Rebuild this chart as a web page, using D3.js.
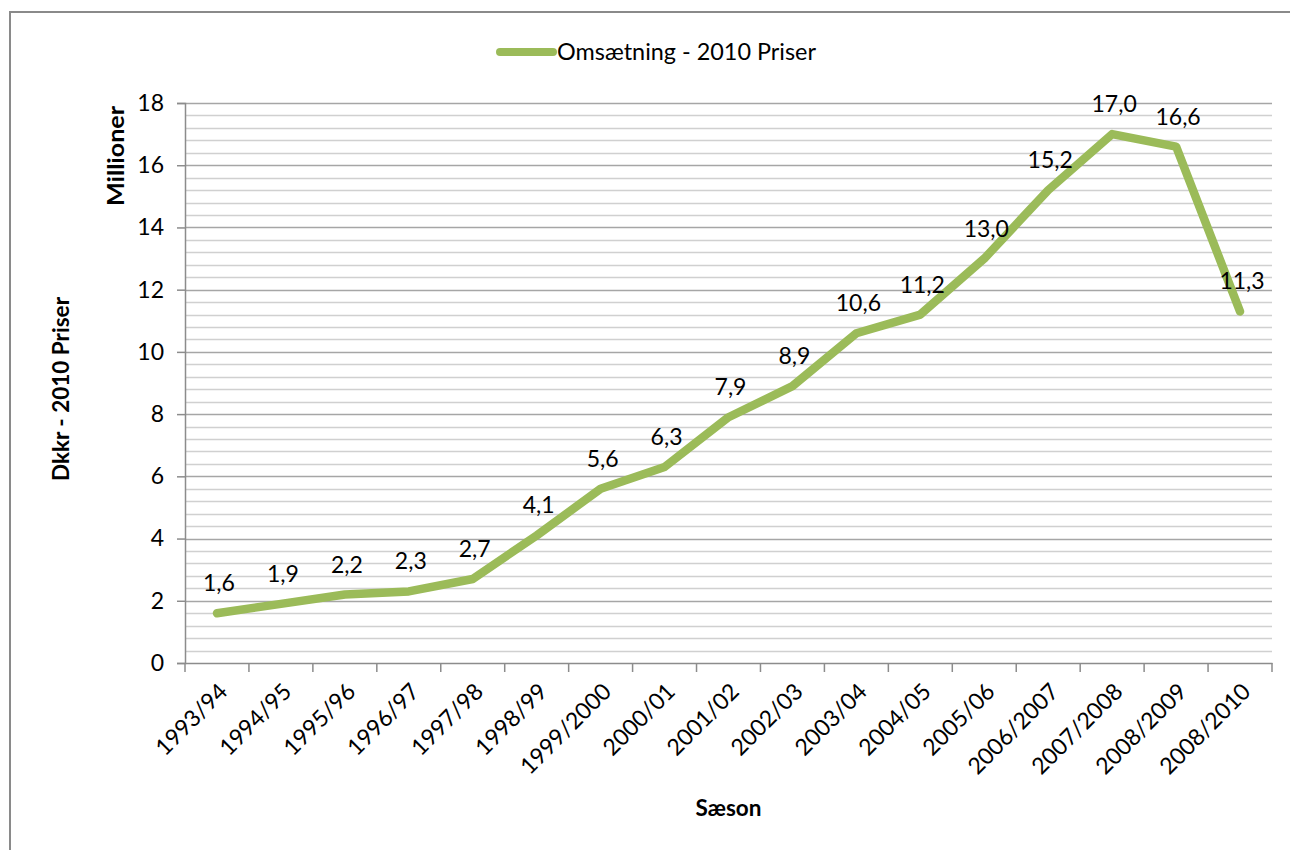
<!DOCTYPE html>
<html><head><meta charset="utf-8">
<script src="https://cdn.jsdelivr.net/npm/d3@7"></script>
<style>
html,body{margin:0;padding:0;background:#fff;}
svg{display:block;}
text{font-family:Lato, "Open Sans", sans-serif;fill:#000;}
</style></head>
<body>
<svg id="chart" width="1290" height="850"></svg>
<script>
const categories = ["1993/94","1994/95","1995/96","1996/97","1997/98","1998/99","1999/2000","2000/01","2001/02","2002/03","2003/04","2004/05","2005/06","2006/2007","2007/2008","2008/2009","2008/2010"];
const values = [1.6,1.9,2.2,2.3,2.7,4.1,5.6,6.3,7.9,8.9,10.6,11.2,13.0,15.2,17.0,16.6,11.3];
const yTicks = [0,2,4,6,8,10,12,14,16,18];
const seriesName = "Omsætning - 2010 Priser";

(function(){
const svg = d3.select("#chart");
const pL = 185, pR = 1272, pT = 103, pB = 663;
const green = "#9BBB59";
const fs = 23, fsB = 22.5, txt = "#1e1e1e";

// outer border
svg.append("rect").attr("x",10).attr("y",12).attr("width",1300).attr("height",900)
  .attr("fill","none").attr("stroke","#8a8a8a").attr("stroke-width",2);

const x = d3.scaleBand().domain(categories).range([pL,pR]).paddingInner(0).paddingOuter(0);
const y = d3.scaleLinear().domain([0,18]).range([pB,pT]);

// minor gridlines
const minor = d3.range(0,18.001,0.4).filter(v => Math.abs(v/2 - Math.round(v/2))>1e-6);
svg.append("g").selectAll("line").data(minor).join("line")
  .attr("x1",pL).attr("x2",pR).attr("y1",d=>Math.round(y(d))+0.5).attr("y2",d=>Math.round(y(d))+0.5)
  .attr("stroke","#d0d0d0").attr("stroke-width",1.5);
// major gridlines
svg.append("g").selectAll("line").data(yTicks.filter(d=>d>0)).join("line")
  .attr("x1",pL).attr("x2",pR).attr("y1",d=>Math.round(y(d))+0.5).attr("y2",d=>Math.round(y(d))+0.5)
  .attr("stroke","#a6a6a6").attr("stroke-width",1.5);

// y axis
const yAxis = d3.axisLeft(y).tickValues(yTicks).tickSize(8).tickPadding(13).tickFormat(d3.format("d"));
const gy = svg.append("g").attr("transform",`translate(${pL},0)`).call(yAxis);
gy.select(".domain").attr("stroke","#8c8c8c").attr("stroke-width",1.5);
gy.selectAll(".tick line").attr("stroke","#8c8c8c").attr("stroke-width",1.5);
gy.selectAll(".tick text").attr("font-size",fs).attr("fill",txt).style("font-family","Lato, sans-serif");

// x axis
const xAxis = d3.axisBottom(x).tickSize(0).tickFormat(d=>d);
const gx = svg.append("g").attr("transform",`translate(0,${pB})`).call(xAxis);
gx.select(".domain").attr("stroke","#8c8c8c").attr("stroke-width",1.5);
gx.selectAll(".tick text").attr("font-size",fs).attr("fill",txt)
  .attr("text-anchor","end").attr("dy",null).attr("y",0)
  .attr("transform","translate(12,30) rotate(-45)");
// category boundary ticks
const bounds = categories.map(c=>x(c)).concat([pR]);
svg.append("g").selectAll("line").data(bounds).join("line")
  .attr("x1",d=>d).attr("x2",d=>d).attr("y1",pB).attr("y2",pB+9)
  .attr("stroke","#8c8c8c").attr("stroke-width",1.5);

// line
const cx = d => x(d) + x.bandwidth()/2;
const line = d3.line().x((d,i)=>cx(categories[i])).y(d=>y(d));
svg.append("path").datum(values).attr("d",line).attr("fill","none")
  .attr("stroke",green).attr("stroke-width",8.5).attr("stroke-linejoin","round").attr("stroke-linecap","round");

// data labels
svg.append("g").selectAll("text").data(values).join("text")
  .attr("x",(d,i)=>cx(categories[i])+2).attr("y",d=>y(d)-22)
  .attr("text-anchor","middle").attr("font-size",fs).attr("fill",txt)
  .text(d=>d3.format(".1f")(d).replace(".",","));

// legend
svg.append("line").attr("x1",500).attr("x2",553).attr("y1",52).attr("y2",52)
  .attr("stroke",green).attr("stroke-width",8).attr("stroke-linecap","round");
svg.append("text").attr("x",557).attr("y",60).attr("font-size",fs).attr("fill",txt)
  .attr("textLength",259).attr("lengthAdjust","spacingAndGlyphs").text(seriesName);

// axis titles
svg.append("text").attr("transform",`translate(69,389) rotate(-90)`)
  .attr("text-anchor","middle").attr("font-size",fsB).attr("font-weight","bold").text("Dkkr - 2010 Priser");
svg.append("text").attr("transform",`translate(124,156) rotate(-90)`)
  .attr("text-anchor","middle").attr("font-size",fsB).attr("font-weight","bold")
  .attr("textLength",100).attr("lengthAdjust","spacingAndGlyphs").text("Millioner");
svg.append("text").attr("x",(pL+pR)/2).attr("y",816)
  .attr("text-anchor","middle").attr("font-size",fsB).attr("font-weight","bold").text("Sæson");
})();
</script>
</body></html>
